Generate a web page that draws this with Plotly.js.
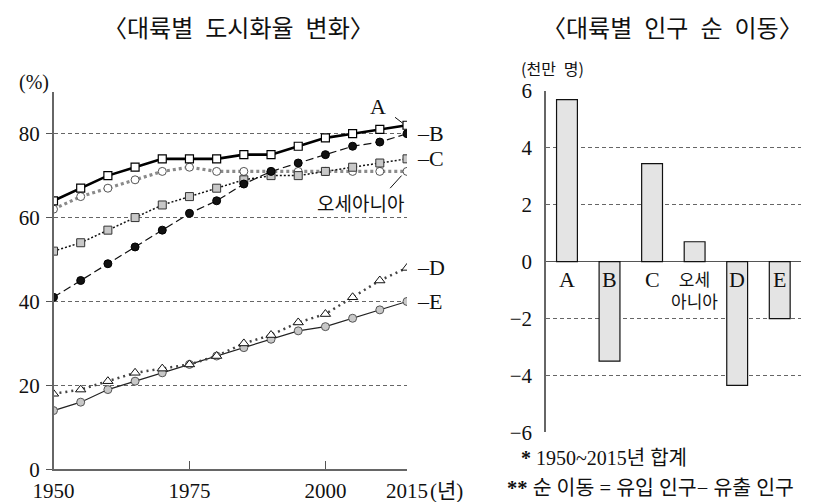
<!DOCTYPE html>
<html>
<head>
<meta charset="utf-8">
<script src="https://cdn.plot.ly/plotly-3.0.1.min.js"></script>
<style>html,body{margin:0;padding:0;background:#fff;}#chart{width:823px;height:502px;}</style>
</head>
<body>
<div id="chart"></div>
<script>
// ---- data: urbanization rate (%) ----
const years = [1950,1955,1960,1965,1970,1975,1980,1985,1990,1995,2000,2005,2010,2015];
const seriesA = [64,67,70,72,74,74,74,75,75,77,79,80,81,82];
const seriesB = [41,45,49,53,57,61,64,68,71,73,75,77,78,80];
const seriesC = [52,54,57,60,63,65,67,69,70,70,71,72,73,74];
const seriesOceania = [62,65,67,69,71,72,71,71,71,71,71,71,71,71];
const seriesD = [18,19,21,23,24,25,27,30,32,35,37,41,45,48];
const seriesE = [14,16,19,21,23,25,27,29,31,33,34,36,38,40];
const yearTicks = [1950,1975,2000,2015];
const yearTickText = ['1950','1975','2000','2015'];
const urbanTicks = [0,20,40,60,80];

// ---- data: net migration (10 million persons) ----
const continents = ['A','B','C','오세아니아','D','E'];
const continentLabels = ['A','B','C','오세<br>아니아','D','E'];
const netMigration = [5.7,-3.5,3.45,0.7,-4.35,-2.0];
const migTicks = [-6,-4,-2,0,2,4,6];
const migTickText = ['−6','−4','−2','0','2','4','6'];

const SERIF = "'Liberation Serif', 'Noto Sans CJK KR', serif";
const KR = "'Noto Sans CJK KR', sans-serif";
const last = a => a[a.length-1];
const endYear = last(years);
const SP = '\u2002';

const traces = [
  {x: years, y: seriesE, mode:'lines+markers', xaxis:'x', yaxis:'y',
   line:{color:'#222', width:1.2},
   marker:{symbol:'circle', size:8, color:'#c8c8c8', line:{color:'#555', width:1}}},
  {x: years, y: seriesD, mode:'lines+markers', xaxis:'x', yaxis:'y',
   line:{color:'#444', width:2.5, dash:'2px,4px'},
   marker:{symbol:'triangle-up', size:9, color:'#fff', line:{color:'#111', width:1}}},
  {x: years, y: seriesOceania, mode:'lines+markers', xaxis:'x', yaxis:'y',
   line:{color:'#8a8a8a', width:3.2, dash:'3px,3px'},
   marker:{symbol:'circle', size:8, color:'#fff', line:{color:'#555', width:1}}},
  {x: years, y: seriesC, mode:'lines+markers', xaxis:'x', yaxis:'y',
   line:{color:'#111', width:1.5, dash:'2px,2px'},
   marker:{symbol:'square', size:8, color:'#c8c8c8', line:{color:'#333', width:1}}},
  {x: years, y: seriesB, mode:'lines+markers', xaxis:'x', yaxis:'y',
   line:{color:'#111', width:1.2, dash:'8px,4px'},
   marker:{symbol:'circle', size:8, color:'#111', line:{color:'#000', width:1}}},
  {x: years, y: seriesA, mode:'lines+markers', xaxis:'x', yaxis:'y',
   line:{color:'#000', width:2.6},
   marker:{symbol:'square', size:8, color:'#fff', line:{color:'#000', width:1.2}}},
  {x: continents.map((c,i)=>i), y: netMigration, type:'bar', xaxis:'x2', yaxis:'y2',
   marker:{color:'#e4e4e4', line:{color:'#111', width:1.2}}}
];

function note(o){ return Object.assign({showarrow:false, xanchor:'center', yanchor:'middle'}, o); }

const annotations = [
  note({text:'〈대륙별'+SP+'도시화율'+SP+'변화〉', xref:'paper', yref:'paper', x:238/823, y:1-27/502,
   font:{family:KR, size:24, color:'#111'}}),
  note({text:'〈대륙별'+SP+'인구'+SP+'순'+SP+'이동〉', xref:'paper', yref:'paper', x:672/823, y:1-27/502,
   font:{family:KR, size:24, color:'#111'}}),
  note({text:'(%)', xref:'paper', yref:'paper', x:34/823, y:1-83/502,
   font:{family:SERIF, size:20, color:'#111'}}),
  note({text:'(천만'+SP+'명)', xref:'paper', yref:'paper', x:519/823, y:1-68/502, xanchor:'left',
   font:{family:KR, size:16, color:'#111'}}),
  note({text:'(년)', xref:'x', yref:'paper', x:endYear, y:1-491/502, xanchor:'left', xshift:21,
   font:{family:SERIF, size:21, color:'#111'}}),
  note({text:'A', xref:'x', yref:'y', x:2009.7, y:86.5,
   font:{family:SERIF, size:22, color:'#111'}}),
  note({text:'오세아니아', xref:'x', yref:'y', x:2006.5, y:63.6,
   font:{family:KR, size:19, color:'#111'}}),
  note({text:'<b>*</b> 1950~2015년 합계', xref:'paper', yref:'paper', x:519/823, y:1-458/502, xanchor:'left',
   font:{family:SERIF, size:20, color:'#111'}}),
  note({text:'<b>**</b> 순 이동 = 유입 인구− 유출 인구', xref:'paper', yref:'paper', x:505/823, y:1-488/502, xanchor:'left',
   font:{family:SERIF, size:20.5, color:'#111'}})
];
// right-side end labels for B..E
[['B',seriesB],['C',seriesC],['D',seriesD],['E',seriesE]].forEach(([n,s])=>{
  annotations.push(note({text:'–'+n, xref:'x', yref:'y', x:endYear, y:last(s), xanchor:'left', xshift:8,
    font:{family:SERIF, size:22, color:'#111'}}));
});
// bar category labels
continentLabels.forEach((lab,i)=>{
  const multi = lab.indexOf('<br>')>=0;
  annotations.push(note({text:lab, xref:'x2', yref:'y2', x:i, y:0, yanchor:'top', yshift: multi?-2:-3,
    font:{family: multi?KR:SERIF, size: multi?17:22, color:'#111'}}));
});

const shapes = [
  {type:'line', xref:'x', yref:'y', x0:2012.8, y0:83.9, x1:2014.2, y1:82.5, line:{color:'#111', width:1}},
  {type:'line', xref:'x', yref:'y', x0:2014.0, y0:70.0, x1:2011.9, y1:67.0, line:{color:'#111', width:1}}
];

const layout = {
  width:823, height:502,
  margin:{l:0, r:0, t:0, b:0},
  paper_bgcolor:'#fff', plot_bgcolor:'rgba(0,0,0,0)',
  showlegend:false,
  font:{family:SERIF, size:21, color:'#111'},
  xaxis:{domain:[53.5/823, 407/823], range:[1950,2015], tickvals:yearTicks, ticktext:yearTickText,
    ticks:'inside', ticklen:8, tickcolor:'#555', showline:true, linecolor:'#666', linewidth:1.5,
    showgrid:false, zeroline:false, tickfont:{family:SERIF, size:21, color:'#111'}, ticklabelstandoff:2},
  yaxis:{domain:[(502-469.3)/502, (502-91.7)/502], range:[0,90], tickvals:urbanTicks,
    ticks:'outside', ticklen:6, tickcolor:'#555', showline:true, linecolor:'#666', linewidth:1.5,
    showgrid:true, gridcolor:'#666', griddash:'4px,3px', gridwidth:1, zeroline:false,
    tickfont:{family:SERIF, size:21, color:'#111'}, ticklabelstandoff:2},
  xaxis2:{domain:[545.7/823, 801/823], range:[-0.5,5.5], showticklabels:false, ticks:'',
    showgrid:false, zeroline:false, showline:false, anchor:'y2'},
  yaxis2:{domain:[(502-432.3)/502, (502-91)/502], range:[-6,6], tickvals:migTicks, ticktext:migTickText, anchor:'x2',
    ticks:'', showline:true, linecolor:'#666', linewidth:1.5,
    showgrid:true, gridcolor:'#666', griddash:'4px,3px', gridwidth:1,
    zeroline:true, zerolinecolor:'#555', zerolinewidth:1.5,
    tickfont:{family:SERIF, size:21, color:'#111'}, ticklabelstandoff:8},
  bargap:0.51,
  annotations: annotations,
  shapes: shapes
};

Plotly.newPlot('chart', traces, layout, {staticPlot:true, displayModeBar:false});
</script>
</body>
</html>
